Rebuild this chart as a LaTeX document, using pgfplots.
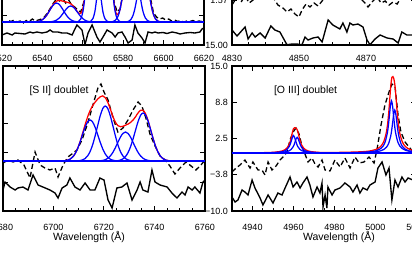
\documentclass[border=0pt]{standalone}
\usepackage{fontspec}
\setmainfont{Liberation Sans}
\usepackage{pgfplots}
\pgfplotsset{compat=1.18}
\definecolor{fitblue}{RGB}{0,0,255}
\definecolor{fitred}{RGB}{255,0,0}
\pgfplotsset{
  panel/.style={
    scale only axis, anchor=south west, height=145pt,
    axis line style={line width=1.8pt},
    tick style={line width=1pt, black},
    major tick length=5pt, minor tick length=3pt,
    tick align=inside, xtick pos=both, ytick pos=both,
    ticklabel style={font=\fontsize{9}{10}\selectfont},
    yticklabel style={anchor=east, inner sep=0pt, xshift=-4pt},
    xticklabel style={anchor=north, inner sep=0pt},
    /pgf/number format/assume math mode=true,
    /pgf/number format/1000 sep={},
    xlabel style={font=\fontsize{10.5}{12}\selectfont, inner sep=0pt, anchor=center},
  },
  dat/.style={black, line width=1.3pt, dash pattern=on 5pt off 3pt},
  resid/.style={black, line width=1.35pt},
  gfit/.style={fitblue, line width=1.25pt, smooth},
  rfit/.style={fitred, line width=1.25pt, smooth},
  base/.style={fitblue, line width=1.3pt},
}
\begin{document}
\begin{tikzpicture}
\useasboundingbox (0,0) rectangle (412pt,255pt);
\clip (0,0) rectangle (412pt,255pt);

% ---------------- top left: H-alpha region
\begin{axis}[panel, at={(2pt,210pt)}, width=202pt,
  xmin=6520, xmax=6620, ymin=-23, ymax=122,
  xtick={6520,6540,6560,6580,6600,6620}, minor x tick num=3,
  xticklabel style={yshift=-9.75pt},
  ytick={-23,6,35,64,93,122}, yticklabels={}]
\addplot[dat] coordinates {(6520,1)(6521.5,-0.5)(6523,1.5)(6524.5,0.5)(6526,2)(6527.5,0)(6529,1)(6530.5,-1)(6532,1.5)(6533.5,0.5)(6535,3)(6536.5,1)(6538,2)(6539.5,3)(6541,5)(6542.5,9)(6544,14)(6545.5,19)(6547,23)(6548.5,21)(6550,24)(6551.5,19)(6553,22)(6554.5,17)(6556,15)(6557.5,12)(6559,10)(6560.5,20)(6562,55)(6563.5,100)(6565,140)(6566.5,120)(6568,105)(6569.5,125)(6571,140)(6572.5,110)(6574,58)(6575.5,20)(6577,10)(6578.5,13)(6580,30)(6581.5,62)(6583,88)(6584.5,90)(6586,82)(6587.5,75)(6589,70)(6590.5,60)(6592,44)(6593.5,24)(6595,9)(6596.5,5)(6598,3)(6599.5,4)(6601,2)(6602.5,3)(6604,1)(6605.5,2)(6607,0.5)(6608.5,1.5)(6610,0)(6611.5,1)(6613,0.5)(6614.5,1.5)(6616,0)(6617.5,1)(6619,0.5)(6620,1)};
\addplot[rfit] coordinates {(6536,0.10)(6537,0.25)(6538,0.57)(6539,1.19)(6540,2.3)(6541,4.0)(6542,6.4)(6543,9.6)(6544,13.1)(6545,16.5)(6546,19.2)(6547,20.9)(6548,21.6)(6549,21.4)(6550,20.9)(6551,20.3)(6552,19.9)(6553,19.3)(6554,18.3)(6555,16.5)(6556,14.1)(6557,11.2)(6558,8.9)(6559,8.6)(6560,13.2)(6561,26.7)(6562,52.4)(6563,86.6)(6564,118.4)(6565,133.5)(6566,127.9)(6567,112.6)(6568,106.7)(6569,117.3)(6570,136.1)(6571,143.2)(6572,127.1)(6573,92.7)(6574,55.5)(6575,27.2)(6576,12.1)(6577,7.35)(6578,9.9)(6579,18.5)(6580,32.4)(6581,50.7)(6582,70.1)(6583,85.5)(6584,93.1)(6585,91.8)(6586,85.1)(6587,77.5)(6588,72.3)(6589,69.1)(6590,64.1)(6591,54.8)(6592,41.4)(6593,27.3)(6594,15.5)(6595,7.4)(6596,3.09)(6597,1.09)(6598,0.33)(6599,0.08)};
\addplot[gfit] coordinates {(6536,0.10)(6537,0.25)(6538,0.57)(6539,1.19)(6540,2.3)(6541,4.0)(6542,6.4)(6543,9.5)(6544,12.9)(6545,16.0)(6546,18.2)(6547,19)(6548,18.2)(6549,16.0)(6550,12.9)(6551,9.5)(6552,6.4)(6553,4.0)(6554,2.3)(6555,1.19)(6556,0.57)(6557,0.25)(6558,0.10)};
\addplot[gfit] coordinates {(6543,0.08)(6544,0.21)(6545,0.48)(6546,1.0)(6547,1.9)(6548,3.4)(6549,5.4)(6550,8.0)(6551,10.8)(6552,13.5)(6553,15.3)(6554,16)(6555,15.3)(6556,13.5)(6557,10.8)(6558,8.0)(6559,5.4)(6560,3.4)(6561,1.9)(6562,1.0)(6563,0.48)(6564,0.21)(6565,0.08)};
\addplot[gfit] coordinates {(6557,0.17)(6558,0.82)(6559,3.16)(6560,9.8)(6561,24.8)(6562,51.4)(6563,85.9)(6564,117.3)(6565,130)(6566,117.3)(6567,85.9)(6568,51.4)(6569,24.8)(6570,9.8)(6571,3.16)(6572,0.82)(6573,0.17)};
\addplot[gfit] coordinates {(6563,0.18)(6564,0.88)(6565,3.4)(6566,10.6)(6567,26.7)(6568,55.3)(6569,92.5)(6570,126.3)(6571,140)(6572,126.3)(6573,92.5)(6574,55.3)(6575,26.7)(6576,10.6)(6577,3.4)(6578,0.88)(6579,0.18)};
\addplot[gfit] coordinates {(6574,0.15)(6575,0.51)(6576,1.52)(6577,3.95)(6578,9.06)(6579,18.3)(6580,32.4)(6581,50.7)(6582,69.8)(6583,84.4)(6584,90)(6585,84.4)(6586,69.8)(6587,50.7)(6588,32.4)(6589,18.3)(6590,9.06)(6591,3.95)(6592,1.52)(6593,0.51)(6594,0.15)};
\addplot[gfit] coordinates {(6582,0.33)(6583,1.09)(6584,3.09)(6585,7.4)(6586,15.3)(6587,26.8)(6588,39.9)(6589,50.8)(6590,55)(6591,50.8)(6592,39.9)(6593,26.8)(6594,15.3)(6595,7.4)(6596,3.09)(6597,1.09)(6598,0.33)(6599,0.08)};
\addplot[base] coordinates {(6520,0)(6620,0)};
\addplot[resid] coordinates {(6520.0,-13)(6522.5,-11)(6525.0,-13)(6526.4,-11)(6528.9,-11.5)(6531.4,-12)(6533.9,-10)(6535.3,-11)(6537.3,-10)(6539.8,-11)(6542.3,-10)(6543.8,-8)(6545.2,-10)(6547.7,-10)(6549.7,-11)(6552.2,-11)(6554.7,-13)(6556.1,-7)(6557.1,-3)(6559.6,-8)(6561.1,-22.5)(6562.6,-11)(6564.6,-3)(6567.0,-15)(6568.5,-20)(6570.0,-15)(6572.0,-8)(6574.5,-11)(6576.0,-15)(6577.4,-11)(6579.4,-10)(6580.9,-15)(6582.4,-21)(6584.4,-18)(6585.8,-3)(6587.3,-11)(6589.3,-16)(6590.8,-21)(6592.3,-10)(6594.3,-11)(6595.7,-10)(6597.2,-11)(6599.7,-10.5)(6601.7,-11.5)(6604.2,-10)(6606.6,-11)(6608.1,-12)(6610.6,-11)(6613.1,-10.5)(6615.5,-11)(6618.0,-10)(6619.0,-7)(6620.0,-6)};
\end{axis}

% ---------------- top right: H-beta region
\begin{axis}[panel, at={(232pt,210pt)}, width=184.25pt,
  xmin=4830, xmax=4885, ymin=-15, ymax=39,
  xtick={4830,4850,4870}, minor x tick num=3,
  xticklabel style={yshift=-9.75pt},
  ytick={-15,1.57,18.14,34.71}, yticklabels={−15.00,1.57,18.14,34.71}]
\addplot[dat] coordinates {(4830.0,-0.10)(4831.5,2.88)(4832.7,1.01)(4833.9,3.25)(4835.1,0.64)(4836.3,1.76)(4837.8,3.99)(4839.3,2.50)(4840.7,4.74)(4842.2,2.88)(4843.7,-0.10)(4845.2,-1.22)(4846.4,-2.71)(4847.6,-1.59)(4848.8,-3.46)(4850.0,-4.57)(4850.9,-1.97)(4852.1,0.27)(4853.3,-0.85)(4854.5,0.64)(4855.7,-0.48)(4856.9,1.39)(4858.1,3.62)(4859.6,5.48)(4861.0,3.99)(4862.8,6.23)(4864.6,4.74)(4866.4,3.25)(4868.2,2.50)(4869.7,0.64)(4870.6,-0.85)(4871.8,1.01)(4873.3,2.88)(4874.5,0.64)(4875.7,1.39)(4876.9,-0.10)(4878.1,1.01)(4879.3,0.27)(4880.4,2.50)(4881.9,3.99)(4883.7,2.88)};
\addplot[resid] coordinates {(4830.0,-9.41)(4831.5,-11.65)(4833.9,-8.30)(4834.8,-12.77)(4836.0,-10.53)(4836.9,-12.02)(4838.4,-10.53)(4839.9,-12.39)(4841.6,-7.92)(4842.8,-9.41)(4844.3,-10.16)(4846.4,-14.9)(4847.9,-14.63)(4849.4,-14.63)(4850.9,-14.9)(4851.8,-12.02)(4852.7,-13.14)(4854.2,-12.39)(4855.7,-12.02)(4856.9,-13.88)(4858.7,-5.69)(4860.1,-7.55)(4862.2,-9.04)(4863.1,-6.81)(4864.3,-10.16)(4865.2,-6.81)(4866.1,-7.55)(4867.6,-7.18)(4869.1,-8.30)(4870.3,-13.14)(4871.2,-14.9)(4872.7,-12.77)(4874.2,-11.28)(4876.3,-12.39)(4878.1,-12.77)(4879.6,-14.26)(4880.7,-10.16)(4882.2,-11.28)(4884.0,-11.28)};
\end{axis}

% ---------------- bottom left: [S II]
\begin{axis}[panel, at={(3pt,44pt)}, width=202pt,
  xmin=6680, xmax=6760, ymin=-50, ymax=95,
  xtick={6680,6700,6720,6740,6760}, minor x tick num=3,
  xticklabel style={yshift=-12.8pt},
  ytick={-50,-21,8,37,66,95}, yticklabels={},
  xlabel={Wavelength (Å)},
  xlabel style={at={(axis description cs:0.4257,-0.179)}}]
\addplot[dat] coordinates {(6680.0,-2)(6682.0,1)(6684.0,-1)(6685.9,1)(6688.3,-4)(6690.7,-17)(6692.7,9)(6694.7,-4)(6696.6,-7)(6698.6,-9)(6700.6,-7)(6701.8,-16)(6703.8,-4)(6705.7,4)(6707.3,7)(6709.3,11)(6711.3,21)(6713.7,39)(6715.6,56)(6717.6,73)(6718.8,77)(6720.0,69)(6721.6,61)(6723.6,43)(6725.5,29)(6727.5,33)(6729.5,41)(6731.5,51)(6733.5,59)(6735.0,55)(6736.6,43)(6738.2,27)(6740.2,15)(6742.2,5)(6744.2,1)(6746.1,-5)(6748.1,-13)(6750.1,-7)(6752.5,-1)(6754.5,-5)(6756.4,-9)(6758.4,-4)(6760.0,1)};
\addplot[rfit] coordinates {(6702.5,0.04)(6703.5,0.1)(6704.5,0.3)(6705.5,0.8)(6706.5,1.8)(6707.5,3.8)(6708.5,7.1)(6709.5,12.3)(6710.5,19.2)(6711.5,27.5)(6712.5,36.1)(6713.5,44.0)(6714.5,50.5)(6715.5,55.2)(6716.5,58.9)(6717.5,61.9)(6718.5,64.2)(6719.5,65.1)(6720.5,63.3)(6721.5,58.8)(6722.5,52.0)(6723.5,44.8)(6724.5,38.9)(6725.5,35.4)(6726.5,34.3)(6727.5,34.7)(6728.5,35.8)(6729.5,36.9)(6730.5,38.5)(6731.5,40.9)(6732.5,44.3)(6733.5,48.1)(6734.5,50.7)(6735.5,50.7)(6736.5,47.0)(6737.5,40.1)(6738.5,31.1)(6739.5,22.1)(6740.5,14.2)(6741.5,8.28)(6742.5,4.39)(6743.5,2.11)(6744.5,0.92)(6745.5,0.36)(6746.5,0.13)(6747.5,0.04)};
\addplot[gfit] coordinates {(6703.5,0.11)(6704.5,0.31)(6705.5,0.79)(6706.5,1.80)(6707.5,3.75)(6708.5,7.07)(6709.5,12.1)(6710.5,18.8)(6711.5,26.4)(6712.5,33.7)(6713.5,39.0)(6714.5,41)(6715.5,39.0)(6716.5,33.7)(6717.5,26.4)(6718.5,18.8)(6719.5,12.1)(6720.5,7.07)(6721.5,3.75)(6722.5,1.80)(6723.5,0.79)(6724.5,0.31)(6725.5,0.11)};
\addplot[gfit] coordinates {(6709.5,0.15)(6710.5,0.42)(6711.5,1.06)(6712.5,2.41)(6713.5,5.03)(6714.5,9.48)(6715.5,16.2)(6716.5,25.2)(6717.5,35.4)(6718.5,45.2)(6719.5,52.4)(6720.5,55)(6721.5,52.4)(6722.5,45.2)(6723.5,35.4)(6724.5,25.2)(6725.5,16.2)(6726.5,9.48)(6727.5,5.03)(6728.5,2.41)(6729.5,1.06)(6730.5,0.42)(6731.5,0.15)};
\addplot[gfit] coordinates {(6717.5,0.08)(6718.5,0.22)(6719.5,0.56)(6720.5,1.27)(6721.5,2.65)(6722.5,5.0)(6723.5,8.56)(6724.5,13.3)(6725.5,18.7)(6726.5,23.9)(6727.5,27.6)(6728.5,29)(6729.5,27.6)(6730.5,23.9)(6731.5,18.7)(6732.5,13.3)(6733.5,8.56)(6734.5,5.0)(6735.5,2.65)(6736.5,1.27)(6737.5,0.56)(6738.5,0.22)(6739.5,0.08)};
\addplot[gfit] coordinates {(6724.5,0.13)(6725.5,0.36)(6726.5,0.92)(6727.5,2.11)(6728.5,4.39)(6729.5,8.28)(6730.5,14.2)(6731.5,22.0)(6732.5,30.9)(6733.5,39.5)(6734.5,45.7)(6735.5,48)(6736.5,45.7)(6737.5,39.5)(6738.5,30.9)(6739.5,22.0)(6740.5,14.2)(6741.5,8.28)(6742.5,4.39)(6743.5,2.11)(6744.5,0.92)(6745.5,0.36)(6746.5,0.13)};
\addplot[base] coordinates {(6680,0)(6760,0)};
\addplot[resid] coordinates {(6680.0,-29)(6680.8,-21)(6682.8,-26)(6684.8,-29)(6685.9,-27)(6687.9,-26)(6689.9,-29)(6691.9,-14)(6693.9,-24)(6695.8,-26)(6698.6,-29)(6700.6,-32)(6701.8,-37)(6703.4,-27)(6705.3,-24)(6706.5,-17)(6708.5,-26)(6710.5,-29)(6712.5,-22)(6714.5,-29)(6716.4,-29)(6718.4,-17)(6720.0,-19)(6721.6,-39)(6723.2,-47)(6725.1,-27)(6727.1,-26)(6729.1,-22)(6731.1,-39)(6733.1,-29)(6734.3,-21)(6735.4,-29)(6737.4,-31)(6739.0,-9)(6740.2,-21)(6742.2,-24)(6745.0,-26)(6746.9,-32)(6748.9,-37)(6750.9,-31)(6752.1,-34)(6753.3,-26)(6754.9,-29)(6756.0,-26)(6758.0,-32)(6759.2,-21)(6760.0,-19)};
\node[font=\fontsize{10.5}{12}\selectfont, anchor=center, inner sep=0pt] at (axis cs:6702.2,70) {[S II] doublet};
\end{axis}

% ---------------- bottom right: [O III]
\begin{axis}[panel, at={(232pt,44pt)}, width=184.5pt,
  xmin=4930, xmax=5020, ymin=-10, ymax=15,
  xtick={4940,4960,4980,5000,5020}, minor xtick={4930,4935,...,5020},
  xticklabel style={yshift=-12.8pt},
  ytick={-10,-3.75,2.5,8.75,15}, yticklabels={−10.0,−3.8,2.5,8.8,15.0},
  xlabel={Wavelength (Å)},
  xlabel style={at={(axis description cs:0.58,-0.179)}}]
\addplot[dat] coordinates {(4930.0,-3.28)(4932.0,-2.59)(4933.9,-2.07)(4936.3,-1.21)(4938.8,-2.59)(4940.2,-1.55)(4942.7,-2.93)(4944.6,-2.93)(4946.1,-3.79)(4947.6,-1.55)(4949.5,-2.93)(4951.5,-2.24)(4953.4,-1.21)(4955.4,-0.52)(4956.8,0.17)(4958.3,2.24)(4959.8,3.62)(4961.2,4.31)(4962.7,3.28)(4964.1,1.21)(4965.6,-0.17)(4967.1,-1.55)(4969.0,-0.86)(4970.5,-1.90)(4972.0,-2.41)(4973.9,-1.21)(4975.4,-2.93)(4977.8,-3.10)(4980.2,-1.21)(4982.7,-2.41)(4985.1,-0.86)(4987.6,-2.59)(4990.0,-0.69)(4992.0,-1.72)(4994.4,-1.55)(4996.8,-0.69)(4999.3,-1.72)(5000.7,0.52)(5002.7,4.83)(5004.6,8.28)(5006.6,10.52)(5008.0,11.90)(5009.5,11.55)(5011.0,6.55)(5012.4,3.62)(5014.4,1.90)(5016.8,0.86)(5018.3,0.17)(5020,0.5)};
\addplot[rfit] coordinates {(4930,0.02)(4940,0.04)(4945,0.06)(4950,0.12)(4953,0.24)(4955,0.42)(4956,0.61)(4957,0.94)(4958,1.58)(4958.5,2.11)(4959,2.82)(4959.5,3.61)(4960,4.19)(4960.5,4.36)(4961,4.32)(4961.5,4.20)(4962,3.83)(4962.5,3.14)(4963,2.39)(4963.5,1.79)(4964,1.35)(4965,0.82)(4966,0.54)(4967,0.38)(4969,0.22)(4972,0.12)(4976,0.07)(4980,0.09)(4985,0.13)(4990,0.17)(4995,0.26)(4998,0.40)(5000,0.59)(5002,0.97)(5003,1.34)(5004,1.95)(5005,3.08)(5005.5,4.00)(5006,5.31)(5006.5,7.15)(5007,9.48)(5007.5,11.76)(5008,13.05)(5008.5,13.18)(5009,12.72)(5009.5,11.60)(5010,9.60)(5010.5,7.36)(5011,5.50)(5011.5,4.14)(5012,3.17)(5013,2.00)(5014,1.36)(5015,0.98)(5016,0.74)(5018,0.46)(5020,0.32)};
\addplot[gfit] coordinates {(4940,0.019)(4945,0.034)(4950,0.075)(4953,0.149)(4955,0.279)(4956,0.414)(4957,0.665)(4958,1.17)(4958.5,1.596)(4959,2.157)(4959.5,2.733)(4960,3.0)(4960.5,2.733)(4961,2.157)(4961.5,1.596)(4962,1.17)(4963,0.665)(4964,0.414)(4965,0.279)(4967,0.149)(4970,0.075)(4975,0.034)(4980,0.019)};
\addplot[gfit] coordinates {(4941.8,0.017)(4946.8,0.030)(4951.8,0.068)(4954.8,0.134)(4956.8,0.251)(4957.8,0.373)(4958.8,0.598)(4959.8,1.053)(4960.3,1.436)(4960.8,1.941)(4961.3,2.46)(4961.8,2.7)(4962.3,2.46)(4962.8,1.941)(4963.3,1.436)(4963.8,1.053)(4964.8,0.598)(4965.8,0.373)(4966.8,0.251)(4968.8,0.134)(4971.8,0.068)(4976.8,0.030)(4981.8,0.017)};
\addplot[gfit] coordinates {(4987.8,0.057)(4992.8,0.101)(4997.8,0.225)(5000.8,0.447)(5002.8,0.836)(5003.8,1.242)(5004.8,1.994)(5005.8,3.51)(5006.3,4.79)(5006.8,6.47)(5007.3,8.20)(5007.8,9.0)(5008.3,8.20)(5008.8,6.47)(5009.3,4.79)(5009.8,3.51)(5010.8,1.994)(5011.8,1.242)(5012.8,0.836)(5014.8,0.447)(5017.8,0.225)(5020,0.152)};
\addplot[gfit] coordinates {(4989.4,0.047)(4994.4,0.083)(4999.4,0.185)(5002.4,0.368)(5004.4,0.687)(5005.4,1.021)(5006.4,1.639)(5007.4,2.886)(5007.9,3.937)(5008.4,5.321)(5008.9,6.741)(5009.4,7.4)(5009.9,6.741)(5010.4,5.321)(5010.9,3.937)(5011.4,2.886)(5012.4,1.639)(5013.4,1.021)(5014.4,0.687)(5016.4,0.368)(5019.4,0.185)(5020,0.165)};
\addplot[base] coordinates {(4930,0)(5020,0)};
\addplot[resid] coordinates {(4930.0,-7.59)(4931.5,-8.45)(4932.9,-8.10)(4934.9,-6.38)(4936.3,-6.72)(4937.8,-7.24)(4939.8,-4.66)(4941.2,-6.03)(4943.7,-7.76)(4945.1,-8.97)(4947.6,-7.24)(4950.0,-8.62)(4952.4,-6.90)(4954.4,-7.24)(4955.9,-6.03)(4958.3,-4.14)(4959.8,-5.86)(4961.7,-5.00)(4963.2,-6.03)(4964.6,-5.17)(4966.6,-4.14)(4968.0,-5.52)(4969.5,-7.59)(4971.5,-5.86)(4972.9,-6.90)(4973.9,-5.17)(4974.4,-9.31)(4975.4,-7.24)(4976.3,-9.48)(4976.8,-5.86)(4978.8,-7.24)(4980.2,-6.38)(4982.7,-6.03)(4985.1,-5.17)(4987.6,-5.86)(4989.0,-6.72)(4991.0,-5.52)(4992.4,-6.90)(4993.9,-6.03)(4995.9,-6.38)(4997.3,-5.52)(4999.8,-5.00)(5001.2,-2.59)(5003.2,-1.55)(5005.1,-3.79)(5006.6,-2.59)(5008.0,-8.10)(5009.5,-4.66)(5011.0,-5.86)(5012.9,-4.14)(5014.4,-5.00)(5015.9,-4.31)(5018.3,-4.66)};
\node[font=\fontsize{10.5}{12}\selectfont, anchor=center, inner sep=0pt] at (axis cs:4965.9,10.69) {[O III] doublet};
\end{axis}
\end{tikzpicture}
\end{document}
